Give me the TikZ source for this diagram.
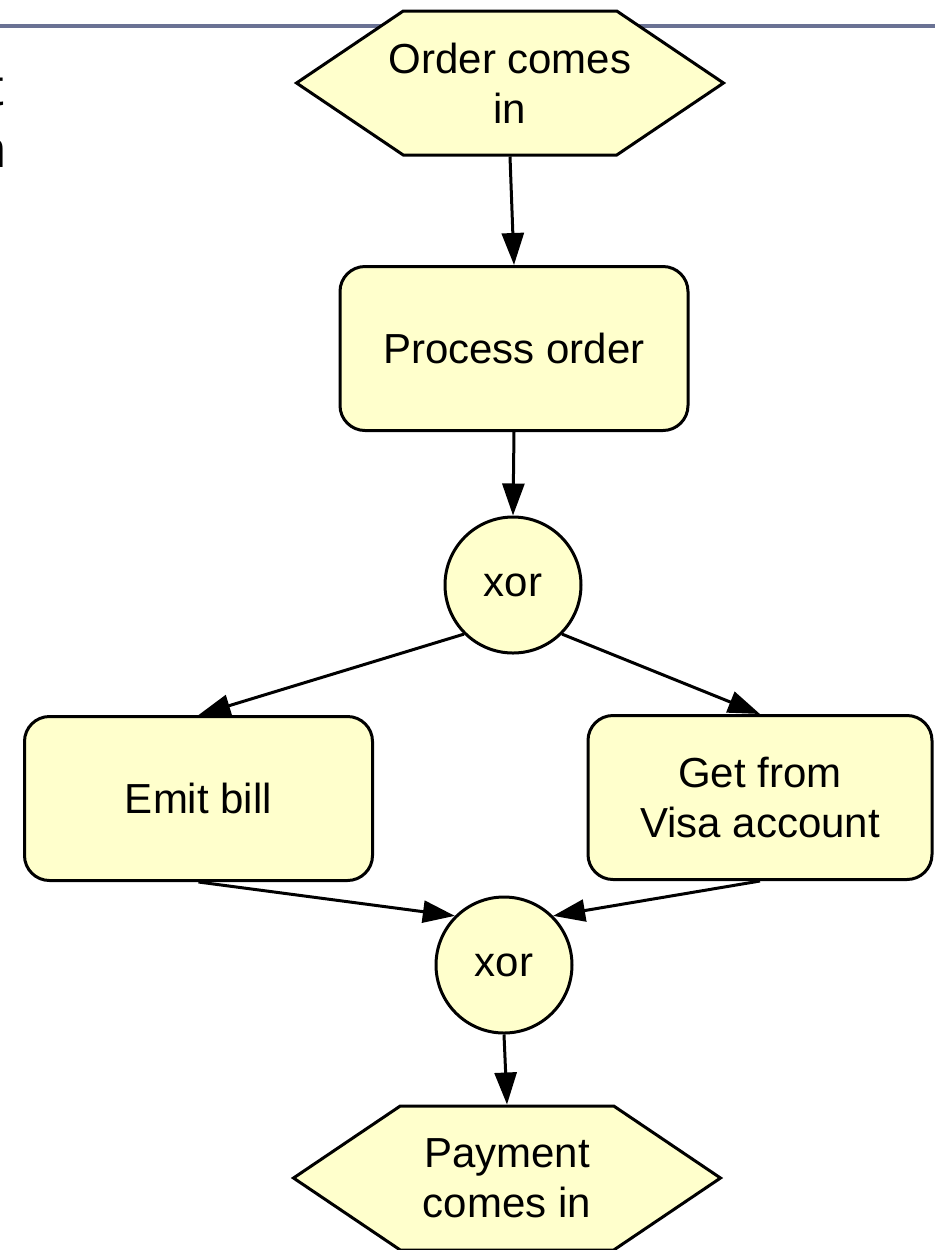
\documentclass[tikz,border=0pt]{standalone}
\usepackage{fontspec}
\setmainfont{Liberation Sans}
\usetikzlibrary{arrows.meta,shapes.symbols}
\definecolor{nodefill}{RGB}{255,255,204}
\definecolor{rulecol}{RGB}{106,114,148}
\tikzset{
  every node/.style={font=\fontsize{21}{25}\selectfont, align=center},
  event/.style={draw, line width=1.5pt, fill=nodefill, shape=signal, signal to=west and east, signal pointer angle=68, minimum width=213.5pt, minimum height=72pt, inner ysep=0pt, inner xsep=-40pt},
  task/.style={draw, line width=1.5pt, fill=nodefill, rounded corners=12.5pt, minimum width=174pt, minimum height=82pt, inner sep=0pt},
  gate/.style={draw, line width=1.5pt, fill=nodefill, circle, minimum size=68pt, inner sep=0pt},
  flow/.style={line width=1.5pt, -{Triangle[length=16pt,width=11pt]}}
}
\begin{document}
\begin{tikzpicture}[x=0.5pt, y=-0.5pt]
  \useasboundingbox (0,0) rectangle (935,1250);
  \clip (0,0) rectangle (935,1250);
  \draw[rulecol, line width=1.8pt] (0,26) -- (935,26);
  \node[anchor=base east, inner sep=0pt, font=\fontsize{26}{30}\selectfont] (cutt) at (4,105) {t};
  \node[anchor=base east, inner sep=0pt, font=\fontsize{26}{30}\selectfont] (cutn) at (7,167) {n};
  \node[event] (order) at (510,83) {Order comes\\in};
  \node[task] (process) at (514,348.5) {Process order};
  \node[gate] (xorsplit) at (513,585) {xor};
  \node[task] (emit) at (198.5,798.5) {Emit bill};
  \node[task, minimum width=172pt] (visa) at (760,797.5) {Get from\\Visa account};
  \node[gate] (xorjoin) at (504,965) {xor};
  \node[event] (payment) at (507,1178) {Payment\\comes in};
  \draw[flow] (order.south) -- (process.north);
  \draw[flow] (process.south) -- (xorsplit.north);
  \draw[flow] (xorsplit.225) -- (emit.north);
  \draw[flow] (xorsplit.315) -- (visa.north);
  \draw[flow] (emit.south) -- (xorjoin.135);
  \draw[flow] (visa.south) -- (xorjoin.45);
  \draw[flow] (xorjoin.south) -- (payment.north);
\end{tikzpicture}
\end{document}
